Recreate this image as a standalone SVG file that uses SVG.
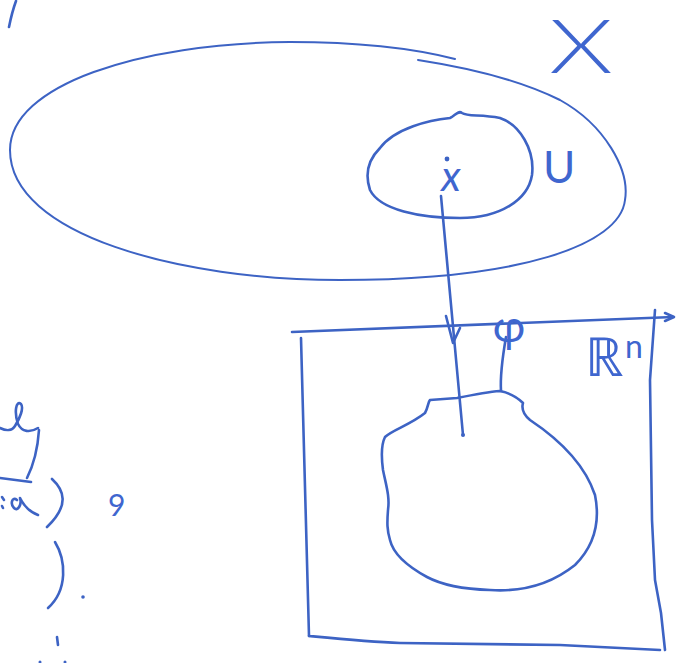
<svg xmlns="http://www.w3.org/2000/svg" width="677" height="663" viewBox="0 0 677 663">
<style>
.ink{fill:none;stroke:#3d63c4;stroke-width:2.6;stroke-linecap:round;stroke-linejoin:round}
.thin{stroke-width:2}
.lbl{fill:#3f66cf;font-family:Lato,"Open Sans","Liberation Sans",sans-serif;font-weight:300}
.mid{font-weight:400}
</style>
<rect width="677" height="663" fill="#ffffff"/>
<g id="edge-stroke-topleft"><path class="ink" d="M9,27 Q12,12 16,1"/></g>
<g id="space-X">
  <path class="ink thin" d="M10,150 C10,85 140,43 290,42 C370,42 420,50 455,59"/>
  <path class="ink thin" d="M418,60 C470,68 520,80 560,100 C605,125 630,170 625,200 C620,245 520,280 340,280 C180,280 10,235 10,150"/>
  <text class="lbl" x="549" y="73" font-size="74" textLength="64" lengthAdjust="spacingAndGlyphs">X</text>
</g>
<g id="set-U">
  <path class="ink" d="M380,148 C395,128 430,120 450,118 C455,116 458,110 462,113 C468,117 480,114 500,118 C520,125 535,150 532,175 C528,200 500,218 460,218 C420,218 380,210 370,190 C365,175 368,160 380,148 Z"/>
  <text class="lbl mid" x="543" y="183" font-size="44">U</text>
</g>
<g id="point-x">
  <circle cx="447" cy="159" r="2.4" fill="#3d63c4"/>
  <text class="lbl mid" x="451" y="191" font-size="42" font-style="italic" text-anchor="middle">x</text>
</g>
<g id="Rn-box">
  <path class="ink" d="M292,332 L673,317"/>
  <path class="ink" d="M665,313 L674,317 L665,321"/>
  <path class="ink" d="M301,338 L309,636"/>
  <path class="ink" d="M309,636 C340,639 370,642 400,643 L560,645 L660,650"/>
  <path class="ink" d="M655,310 L650,380 L652,520 L655,580 L661,613 L665,650"/>
  <text class="lbl mid" x="585" y="376" font-size="54">ℝ</text>
  <text class="lbl mid" x="625" y="358" font-size="32">n</text>
</g>
<g id="image-blob">
  <path class="ink" d="M430,400 L457,398 C472,395 488,392 500,391 C510,393 518,398 523,403 C521,410 524,415 530,420 C560,440 585,465 595,495 C600,520 595,545 575,565 C550,585 520,592 490,590 C460,589 440,584 427,577 C405,565 393,553 390,540 C387,530 387,523 388,510 C390,497 386,485 383,470 C381,455 381,445 385,437 C392,430 410,425 425,413 C428,408 428,402 430,400 Z"/>
  <circle cx="463" cy="435" r="2" fill="#3d63c4"/>
</g>
<g id="connectors">
  <path class="ink" d="M441,196 L463,435"/>
  <path class="ink" d="M446,316 L453,343 L460,328"/>
  <path class="ink" d="M506,337 C502,360 500,375 501,391"/>
  <text class="lbl mid" x="509" y="342" font-size="44" text-anchor="middle">φ</text>
</g>
<g id="left-fragments">
  <path class="ink" d="M0,428 C6,431 12,431 15,426 C20,418 24,408 21,404 C16,400 14,412 18,424 C22,432 30,433 38,428"/>
  <path class="ink" d="M39,430 C38,445 36,460 27,478"/>
  <path class="ink" d="M0,478 L31,482"/>
  <path class="ink" d="M17,500 C12,496 10,504 14,508 C18,512 22,504 20,498 C24,506 30,512 38,515"/>
  <path class="ink" d="M2,497 L4,500 M2,506 L3,508"/>
  <path class="ink" d="M52,479 C64,490 70,505 47,527"/>
  <text class="lbl mid" x="108" y="516" font-size="30">9</text>
  <path class="ink" d="M55,542 C66,560 68,590 48,608"/>
  <circle cx="83" cy="597" r="1.8" fill="#3d63c4"/>
  <path class="ink" d="M57,637 L58,645"/>
  <circle cx="40" cy="662" r="1.5" fill="#3d63c4"/>
  <circle cx="65" cy="662" r="1.5" fill="#3d63c4"/>
</g>
</svg>
